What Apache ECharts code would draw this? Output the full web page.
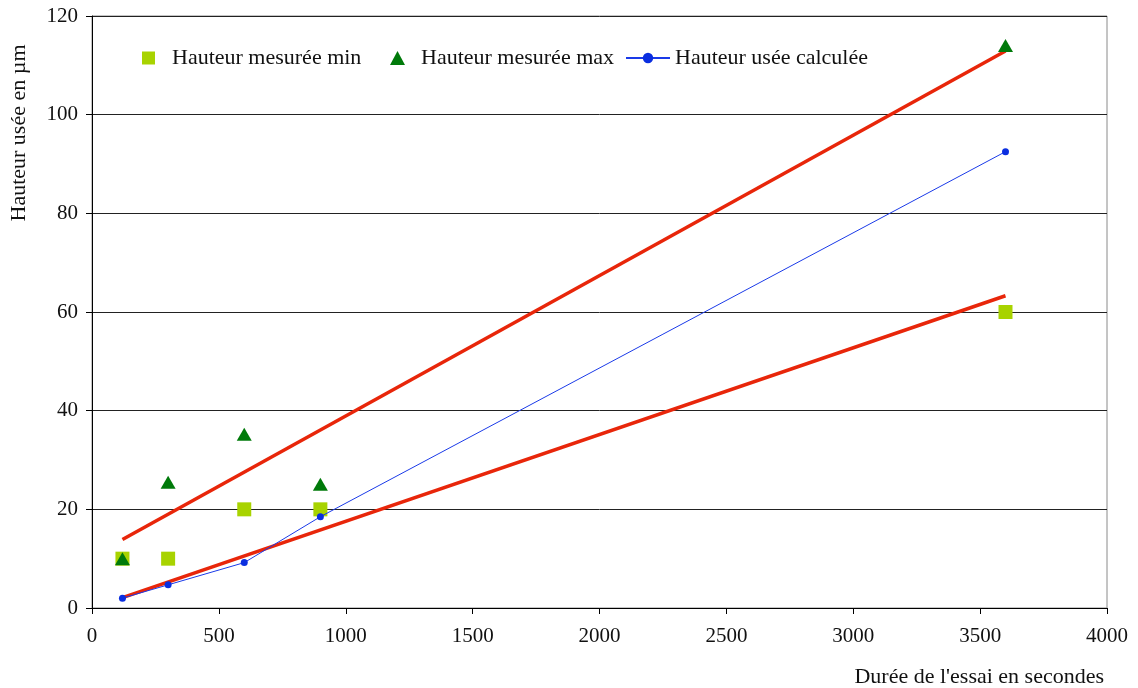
<!DOCTYPE html>
<html>
<head>
<meta charset="utf-8">
<script src="https://cdn.jsdelivr.net/npm/echarts@6/dist/echarts.min.js"></script>
<style>html,body{margin:0;padding:0;background:#fff}#c{width:1138px;height:688px}</style>
</head>
<body>
<div id="c"></div>
<script>
const durations = [120, 300, 600, 900, 3600];
const hauteurMin = [10, 10, 20, 20, 60];
const hauteurMax = [10, 25.5, 35.2, 25.1, 114];
const hauteurCalc = [2, 4.7, 9.2, 18.5, 92.5];
const trendX = [120, 3600];
const trendMaxY = [13.9, 112.9];
const trendMinY = [2.1, 63.3];
const xTicks = [0, 500, 1000, 1500, 2000, 2500, 3000, 3500, 4000];
const yTicks = [0, 20, 40, 60, 80, 100, 120];

const FONT = "'Liberation Serif', 'DejaVu Serif', serif";
const pairs = (xs, ys) => xs.map((x, i) => [x, ys[i]]);

const chart = echarts.init(document.getElementById('c'));
function legendAt(left, name, w, h, padLeft) {
  return {
    left: left, top: 42, itemWidth: w, itemHeight: h, itemGap: 0, selectedMode: false,
    data: [name],
    textStyle: {fontFamily: FONT, fontSize: 22, color: '#111', padding: [0, 0, 0, padLeft]}
  };
}
chart.setOption({
  animation: false,
  grid: {left: 92, right: 31, top: 16, bottom: 80, show: true, borderColor: '#8a8a8a', borderWidth: 1, backgroundColor: 'transparent'},
  legend: [
    legendAt(137, 'Hauteur mesurée min', 13, 13, 12),
    legendAt(385, 'Hauteur mesurée max', 15, 14, 11),
    legendAt(620, 'Hauteur usée calculée', 44, 13, 0)
  ],
  xAxis: {
    type: 'value', min: xTicks[0], max: xTicks[xTicks.length-1], interval: 500,
    axisLine: {show: true, lineStyle: {color: '#000', width: 1}},
    axisTick: {show: true, inside: false, length: 6, lineStyle: {color: '#000'}},
    axisLabel: {fontFamily: FONT, fontSize: 21, color: '#111', margin: 18, formatter: v => String(v)},
    splitLine: {show: false}
  },
  yAxis: {
    type: 'value', min: yTicks[0], max: yTicks[yTicks.length-1], interval: 20,
    axisLine: {show: true, lineStyle: {color: '#000', width: 1}},
    axisTick: {show: true, inside: false, length: 6, lineStyle: {color: '#000'}},
    axisLabel: {fontFamily: FONT, fontSize: 21, color: '#111', margin: 14, formatter: v => String(v)},
    splitLine: {show: true, lineStyle: {color: '#222', width: 1}}
  },
  series: [
    {
      name: 'trendMax', type: 'line', data: pairs(trendX, trendMaxY), symbol: 'none',
      lineStyle: {color: '#e8260a', width: 3.5}, z: 3, silent: true
    },
    {
      name: 'trendMin', type: 'line', data: pairs(trendX, trendMinY), symbol: 'none',
      lineStyle: {color: '#e8260a', width: 3.5}, z: 3, silent: true
    },
    {
      name: 'Hauteur mesurée min', type: 'scatter', data: pairs(durations, hauteurMin),
      symbol: 'rect', symbolSize: 14, itemStyle: {color: '#a8d300', opacity: 1}, z: 4
    },
    {
      name: 'Hauteur mesurée max', type: 'scatter', data: pairs(durations, hauteurMax),
      symbol: 'triangle', symbolSize: [15, 13], itemStyle: {color: '#007a0a', opacity: 1}, z: 5
    },
    {
      name: 'Hauteur usée calculée', type: 'line', data: pairs(durations, hauteurCalc),
      symbol: 'circle', symbolSize: 7, showSymbol: true,
      lineStyle: {color: '#1a3ae8', width: 1}, itemStyle: {color: '#0a2ee0'}, z: 6
    }
  ],
  graphic: [
    {type: 'text', x: 19, y: 133, rotation: Math.PI/2,
     style: {text: 'Hauteur usée en µm', font: "22px " + FONT, fill: '#111', textAlign: 'center', textVerticalAlign: 'middle'}},
    {type: 'text', x: 1104, y: 677,
     style: {text: "Durée de l'essai en secondes", font: "22px " + FONT, fill: '#111', textAlign: 'right', textVerticalAlign: 'middle'}}
  ]
});
</script>
</body>
</html>
